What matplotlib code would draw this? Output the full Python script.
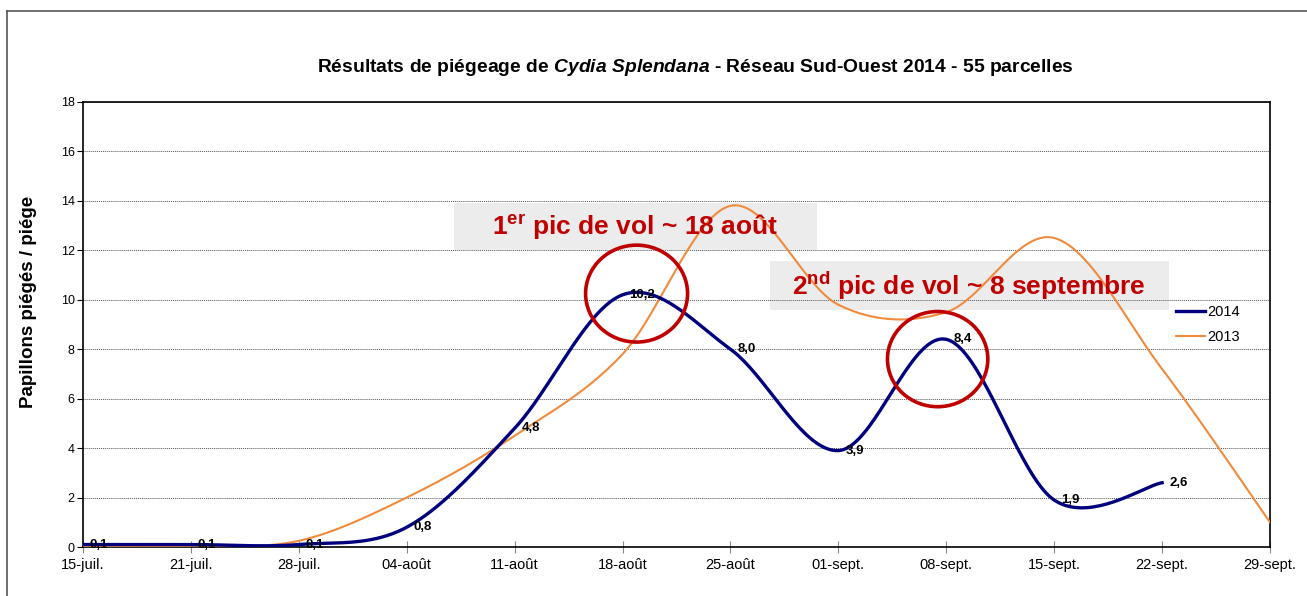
#%% --- Import required packages ---

import numpy as np
import matplotlib
matplotlib.use("Agg")
import matplotlib.pyplot as plt
from matplotlib.patches import Ellipse, Rectangle
from matplotlib.lines import Line2D
from matplotlib import font_manager

#%% --- Data ---

dates = ["15-juil.", "21-juil.", "28-juil.", "04-août", "11-août", "18-août",
         "25-août", "01-sept.", "08-sept.", "15-sept.", "22-sept.", "29-sept."]
vals_2014 = [0.1, 0.1, 0.1, 0.8, 4.8, 10.2, 8.0, 3.9, 8.4, 1.9, 2.6]
vals_2013 = [0.0, 0.05, 0.25, 2.0, 4.5, 7.8, 13.8, 9.8, 9.5, 12.5, 7.2, 1.0]
labels_2014 = ["0,1", "0,1", "0,1", "0,8", "4,8", "10,2", "8,0", "3,9", "8,4", "1,9", "2,6"]

#%% --- Fonts ---

names = {f.name for f in font_manager.fontManager.ttflist}
narrow = "Liberation Sans Narrow" if "Liberation Sans Narrow" in names else "Liberation Sans"

plt.rcParams["font.family"] = ["Liberation Sans", "DejaVu Sans"]
plt.rcParams["mathtext.fontset"] = "custom"
plt.rcParams["mathtext.rm"] = "Liberation Sans:bold"
plt.rcParams["mathtext.bf"] = "Liberation Sans:bold"
plt.rcParams["mathtext.it"] = "Liberation Sans:italic:bold"


def excel_smooth(y, n=40):
    # Bezier smoothing like spreadsheet "smoothed line"
    pts = np.column_stack([np.arange(len(y)), np.asarray(y, float)])
    out = [pts[0]]
    t = np.linspace(0, 1, n)[1:, None]
    for i in range(len(pts) - 1):
        p0 = pts[i - 1] if i > 0 else pts[i]
        p1, p2 = pts[i], pts[i + 1]
        p3 = pts[i + 2] if i + 2 < len(pts) else pts[i + 1]
        c1 = p1 + (p2 - p0) / 6
        c2 = p2 - (p3 - p1) / 6
        seg = ((1 - t) ** 3) * p1 + 3 * ((1 - t) ** 2) * t * c1 \
            + 3 * (1 - t) * t ** 2 * c2 + t ** 3 * p2
        out.extend(seg)
    out = np.array(out)
    return out[:, 0], out[:, 1]


#%% --- Visualization ---

fig = plt.figure(figsize=(13.07, 5.96), dpi=100)
ax = fig.add_axes([83 / 1307, 49 / 596, 1187 / 1307, 445 / 596])

x13, y13 = excel_smooth(vals_2013)
x14, y14 = excel_smooth(vals_2014)
ax.plot(x13, y13, color="#f08a3c", lw=1.5, label="2013", zorder=3)
ax.plot(x14, y14, color="#00007f", lw=2.4, label="2014", zorder=4)

for i, (v, lab) in enumerate(zip(vals_2014, labels_2014)):
    ax.annotate(lab, (i, v), xytext=(5, 0), textcoords="offset points",
                ha="left", va="center", fontsize=9.5, fontweight="bold",
                family=narrow, zorder=5)

# --- Axes, ticks, grid ---
ax.set_xlim(0, 11)
ax.set_ylim(0, 18)
ax.set_yticks(range(0, 19, 2))
ax.set_xticks(range(len(dates)))
ax.set_xticklabels(dates, family=narrow, fontsize=10.5)
for lab in ax.get_yticklabels():
    lab.set_family(narrow)
    lab.set_fontsize(9)
ax.tick_params(axis="x", direction="inout", length=8, width=0.8, color="#888888", pad=4)
ax.tick_params(axis="y", direction="out", length=4, width=0.8, pad=2)
ax.grid(axis="y", color="#555555", linestyle=(0, (1, 1)), linewidth=0.7)
for s in ax.spines.values():
    s.set_linewidth(1.2)
    s.set_color("black")

ax.set_ylabel("Papillons piégés / piége", fontsize=13.5, fontweight="bold")
ax.yaxis.set_label_coords(-0.039, 0.55)

# --- Legend ---
hs, ls = ax.get_legend_handles_labels()
ax.legend(hs[::-1], ls[::-1], loc="center left", bbox_to_anchor=(0.91, 0.5),
          frameon=False, handlelength=2.0, handletextpad=0.1,
          prop={"family": narrow, "size": 10.5}, labelspacing=0.75)

# --- Callouts ---
ax.add_patch(Rectangle((3.44, 12.0), 3.36, 1.9, facecolor="#ececec",
                       edgecolor="none", zorder=1))
ax.add_patch(Rectangle((6.37, 9.6), 3.69, 1.98, facecolor="#ececec",
                       edgecolor="none", zorder=1))
ax.text(5.12, 12.95, r"1$^{\mathbf{er}}$ pic de vol ~ 18 août", color="#c00000",
        fontsize=19, fontweight="bold", ha="center", va="center", zorder=6)
ax.text(8.21, 10.55, r"2$^{\mathbf{nd}}$ pic de vol ~ 8 septembre", color="#c00000",
        fontsize=19, fontweight="bold", ha="center", va="center", zorder=6)
ax.add_patch(Ellipse((5.13, 10.25), 0.945, 3.92, facecolor="none",
                     edgecolor="#c00000", lw=2.6, zorder=6))
ax.add_patch(Ellipse((7.92, 7.6), 0.93, 3.85, facecolor="none",
                     edgecolor="#c00000", lw=2.6, zorder=6))

# --- Title ---
fig.text(0.532, 0.886,
         r"Résultats de piégeage de $\mathit{Cydia\ Splendana}$ - Réseau Sud-Ouest 2014 - 55 parcelles",
         ha="center", va="center", fontsize=13.9, fontweight="bold", family=narrow)

# --- Outer frame ---
fig.add_artist(Line2D([7 / 1307, 7 / 1307], [0, 1 - 11 / 596], color="#555555", lw=1.2))
fig.add_artist(Line2D([7 / 1307, 1], [1 - 11 / 596, 1 - 11 / 596], color="#555555", lw=1.2))

fig.savefig("out.png", dpi=100)
